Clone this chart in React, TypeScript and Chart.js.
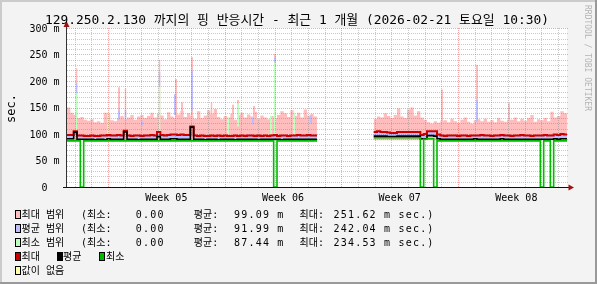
import React, { useEffect, useRef } from "react";
import { Chart, registerables } from "chart.js";

Chart.register(...registerables);

// ---------------- texts ----------------
const TITLE = "129.250.2.130 까지의 핑 반응시간 - 최근 1 개월 (2026-02-21 토요일 10:30)";
const Y_TITLE = "sec.";
const WATERMARK = "RRDTOOL / TOBI OETIKER";

// ---------------- axes ----------------
const SAMPLE_DAYS = 0.2; // one sample = 4.8 h
const SPIKE_DAYS = 0.12; // width of a short spike
const X_MIN = 0;
const X_MAX = 30; // days shown (1 month)
const Y_MIN = 0;
const Y_MAX = 300;
const yTickValues = [0, 50, 100, 150, 200, 250, 300];
const yTickLabels = ["  0  ", " 50 m", "100 m", "150 m", "200 m", "250 m", "300 m"];
const yMinorStep = 10;
const weekLabels = ["Week 05", "Week 06", "Week 07", "Week 08"];
const weekStartDays = [2.46, 9.46, 16.46, 23.46];
const firstDayLine = 0.46;
const dayLineCount = 30;

// ---------------- series (ms), null = no data ----------------
const maxRangeTop: (number | null)[] = [
  150, 140, 136, 130, 132, 127, 125, 128, 122, 124,
  121, 140, 138, 126, 124, 130, 134, 128, 131, 136,
  127, 133, 136, 130, 134, 140, 131, 138, 135, 128,
  141, 133, 130, 137, 144, 132, 139, 134, 129, 143,
  130, 135, 145, 138, 147, 132, 128, 134, 131, 138,
  127, 136, 140, 131, 137, 133, 142, 129, 135, 131,
  128, 134, 130, 136, 143, 139, 132, 145, 134, 140,
  131, 146, 135, 138, 133,
  null, null, null, null, null, null, null, null, null, null,
  null, null, null, null, null, null, null,
  129, 133, 131, 139, 134, 130, 136, 148, 133, 130,
  146, 150, 135, 143, 131, 127, 122, 120, 124, 121,
  125, 126, 122, 129, 124, 121, 127, 131, 123, 120,
  126, 128, 124, 129, 123, 126, 122, 130, 125, 123,
  127, 127, 131, 124, 129, 125, 130, 136, 123, 128,
  126, 130, 124, 142, 131, 134, 143, 139,
];

const maxLine: (number | null)[] = [
  98, 98, 105, 97, 97, 96, 96, 97, 96, 96,
  97, 97, 98, 97, 97, 98, 97, 106, 97, 96,
  97, 97, 96, 97, 97, 98, 97, 104, 98, 97,
  98, 99, 99, 98, 99, 98, 98, 114, 97, 96,
  97, 96, 96, 97, 96, 97, 96, 97, 96, 96,
  97, 96, 97, 96, 97, 97, 96, 97, 96, 97,
  96, 97, 98, 96, 97, 97, 96, 97, 97, 98,
  97, 97, 98, 97, 97,
  null, null, null, null, null, null, null, null, null, null,
  null, null, null, null, null, null, null,
  104, 105, 104, 104, 103, 102, 102, 104, 104, 104,
  104, 104, 104, 104, 98, 100, 105, 105, 105, 99,
  97, 96, 97, 97, 97, 96, 97, 97, 96, 97,
  97, 97, 98, 97, 97, 96, 97, 97, 98, 97,
  97, 96, 97, 97, 98, 97, 97, 96, 97, 97,
  97, 98, 97, 97, 99, 98, 100, 99,
];

const avgLine: (number | null)[] = [
  91, 91, 103, 90, 90, 90, 90, 90, 89, 90,
  90, 89, 91, 90, 90, 90, 90, 104, 90, 90,
  90, 89, 90, 90, 90, 90, 90, 95, 90, 90,
  90, 91, 91, 90, 90, 90, 90, 113, 90, 90,
  90, 89, 90, 90, 90, 89, 90, 90, 90, 90,
  89, 90, 90, 90, 90, 90, 90, 89, 90, 90,
  90, 90, 90, 90, 89, 90, 90, 90, 90, 90,
  90, 90, 90, 90, 90,
  null, null, null, null, null, null, null, null, null, null,
  null, null, null, null, null, null, null,
  96, 96, 96, 96, 95, 95, 95, 96, 96, 96,
  96, 96, 96, 96, 91, 91, 97, 97, 96, 91,
  90, 90, 90, 90, 90, 90, 90, 90, 90, 90,
  91, 90, 90, 90, 90, 90, 90, 90, 91, 90,
  90, 90, 90, 90, 90, 90, 90, 90, 90, 90,
  90, 90, 90, 90, 91, 90, 91, 91,
];

const minLine: (number | null)[] = [
  87, 87, 87, 87, 0, 87, 87, 87, 87, 87,
  87, 87, 87, 87, 87, 87, 87, 87, 87, 87,
  87, 87, 87, 87, 87, 87, 87, 87, 87, 87,
  87, 87, 87, 87, 87, 87, 87, 87, 87, 87,
  87, 87, 87, 87, 87, 87, 87, 87, 87, 87,
  87, 87, 87, 87, 87, 87, 87, 87, 87, 87,
  87, 87, 0, 87, 87, 87, 87, 87, 87, 87,
  87, 87, 87, 87, 87,
  null, null, null, null, null, null, null, null, null, null,
  null, null, null, null, null, null, null,
  93, 93, 93, 93, 93, 93, 93, 93, 93, 93,
  93, 93, 93, 93, 0, 90, 91, 91, 0, 87,
  87, 87, 87, 87, 87, 87, 87, 87, 87, 87,
  87, 87, 87, 87, 87, 87, 87, 87, 87, 87,
  87, 87, 87, 87, 87, 87, 87, 87, 87, 87,
  0, 87, 87, 0, 87, 87, 87, 87,
];

// short spikes: [day, top] for the max spread, [day, low, high] for the others
const maxRangeSpikes: [number, number][] = [
  [0.51, 224], [3.06, 188], [3.45, 186], [5.49, 240], [6.48, 204], [6.84, 160],
  [7.44, 245], [8.61, 160], [9.9, 155], [10.2, 164], [11.16, 153], [12.42, 251],
  [22.44, 184], [24.54, 230], [26.46, 158],
];
const avgRangeSpikes: [number, number, number][] = [
  [0.51, 177, 196], [3.06, 128, 145], [3.45, 126, 145], [4.46, 115, 125], [5.49, 190, 217],
  [6.42, 136, 175], [7.44, 145, 220], [10.2, 120, 155], [11.1, 118, 130], [12.42, 235, 244],
  [14.58, 120, 135], [24.54, 123, 164],
];
const minRangeSpikes: [number, number, number][] = [
  [0.51, 100, 177], [2.4, 98, 140], [5.49, 98, 190], [9.6, 100, 130], [10.2, 114, 158],
  [12.18, 100, 134], [12.42, 98, 235], [13.56, 100, 140],
];
const rangeFloor = 88;

// ---------------- legend ----------------
const legendNames = ["최대 범위", "평균 범위", "최소 범위"];
const legendMins = ["0.00", "0.00", "0.00"];
const legendAvgs = ["99.09 m", "91.99 m", "87.44 m"];
const legendMaxes = ["251.62 m", "242.04 m", "234.53 m"];
const lineLegendNames = ["최대", "평균", "최소"];
const unknownLabel = "값이 없음";

// ---------------- colours ----------------
const C_MAXRANGE = "#FFBDBD";
const C_AVGRANGE = "#BDBDFF";
const C_MINRANGE = "#BDFFBD";
const C_MAX = "#CC0000";
const C_AVG = "#000000";
const C_MIN = "#00BB00";
const C_UNKNOWN = "#FFFFA8";
const MONO = '"DejaVu Sans Mono", "Noto Sans CJK KR", monospace';

type Pt = { x: number; y: number | null };
function stepPoints(values: (number | null)[]): Pt[] {
  const pts: Pt[] = [];
  for (let i = 0; i < values.length; i++) {
    const v = values[i];
    if (v === null || v === undefined) continue;
    pts.push({ x: i * SAMPLE_DAYS, y: v });
    const next = i + 1 < values.length ? values[i + 1] : null;
    if (next === null || next === undefined) {
      pts.push({ x: (i + 1) * SAMPLE_DAYS, y: v });
      pts.push({ x: (i + 1) * SAMPLE_DAYS, y: null });
    }
  }
  return pts;
}
function spikePoints(list: number[][], k: number): Pt[] {
  const pts: Pt[] = [];
  list.forEach((s) => {
    pts.push({ x: s[0], y: s[k] });
    pts.push({ x: s[0] + SPIKE_DAYS, y: s[k] });
    pts.push({ x: s[0] + SPIKE_DAYS, y: null });
  });
  return pts;
}

function drawText(ctx: CanvasRenderingContext2D, s: string, x: number, y: number, size: number, spacing = 0) {
  ctx.font = `${size}px ${MONO}`;
  (ctx as any).letterSpacing = `${spacing}px`;
  ctx.fillText(s, x, y);
  (ctx as any).letterSpacing = "0px";
}
function drawBox(ctx: CanvasRenderingContext2D, x: number, top: number, color: string) {
  ctx.fillStyle = color;
  ctx.fillRect(x, top, 6, 9);
  ctx.strokeStyle = "#000";
  ctx.lineWidth = 1;
  ctx.setLineDash([]);
  ctx.strokeRect(x + 0.5, top + 0.5, 5, 8);
}

const GRID_AFTER_INDEX = 7;

const rrdPlugin = {
  id: "rrd",
  beforeDraw(chart: any) {
    const { ctx, chartArea: a, width, height } = chart;
    ctx.save();
    ctx.fillStyle = "#F3F3F3";
    ctx.fillRect(0, 0, width, height);
    ctx.fillStyle = "#CBCBCB";
    ctx.fillRect(0, 0, width, 2);
    ctx.fillRect(0, 0, 2, height);
    ctx.fillStyle = "#999999";
    ctx.fillRect(0, height - 2, width, 2);
    ctx.fillRect(width - 2, 0, 2, height);
    ctx.fillStyle = "#FFFFFF";
    ctx.fillRect(a.left, a.top, a.right - a.left, a.bottom - a.top);
    ctx.restore();
  },
  afterDatasetDraw(chart: any, args: any) {
    if (args.index !== GRID_AFTER_INDEX) return;
    const { ctx, chartArea: a } = chart;
    const xs = chart.scales.x;
    const ys = chart.scales.y;
    ctx.save();
    ctx.lineWidth = 1;
    ctx.setLineDash([1, 1]);
    const minor = "rgba(120,120,120,0.4)";
    const major = "rgba(235,60,60,0.45)";
    for (let v = yMinorStep; v <= Y_MAX; v += yMinorStep) {
      const py = Math.round(ys.getPixelForValue(v)) + 0.5;
      ctx.strokeStyle = yTickValues.includes(v) ? major : minor;
      ctx.beginPath();
      ctx.moveTo(a.left, py);
      ctx.lineTo(a.right + 1, py);
      ctx.stroke();
    }
    for (let k = 0; k < dayLineCount; k++) {
      const d = firstDayLine + k;
      const isMajor = weekStartDays.some((w) => Math.abs(w - d) < 1e-6);
      const px = Math.round(xs.getPixelForValue(d)) + 0.5;
      ctx.strokeStyle = isMajor ? major : minor;
      ctx.beginPath();
      ctx.moveTo(px, a.top);
      ctx.lineTo(px, a.bottom);
      ctx.stroke();
    }
    ctx.restore();
  },
  afterDatasetsDraw(chart: any) {
    const { ctx } = chart;
    const xs = chart.scales.x;
    const ys = chart.scales.y;
    const x0 = xs.getPixelForValue(X_MIN) - 0.5;
    const y0 = ys.getPixelForValue(Y_MIN) + 0.5;
    const xEnd = xs.getPixelForValue(X_MAX);
    const yTop = ys.getPixelForValue(Y_MAX);
    ctx.save();
    ctx.setLineDash([]);
    ctx.lineWidth = 1;
    ctx.strokeStyle = "#333333";
    ctx.beginPath();
    ctx.moveTo(x0, y0 + 0.5);
    ctx.lineTo(x0, yTop - 3);
    ctx.stroke();
    ctx.strokeStyle = "#111111";
    ctx.beginPath();
    ctx.moveTo(x0 - 3.5, y0);
    ctx.lineTo(xEnd + 2, y0);
    ctx.stroke();
    // arrows
    ctx.fillStyle = "#A01010";
    ctx.beginPath();
    ctx.moveTo(x0, yTop - 7);
    ctx.lineTo(x0 - 3, yTop - 1);
    ctx.lineTo(x0 + 3, yTop - 1);
    ctx.closePath();
    ctx.fill();
    ctx.beginPath();
    ctx.moveTo(xEnd + 7, y0);
    ctx.lineTo(xEnd + 1.5, y0 - 3);
    ctx.lineTo(xEnd + 1.5, y0 + 3);
    ctx.closePath();
    ctx.fill();

    // y tick labels
    ctx.fillStyle = "#000";
    ctx.textAlign = "left";
    ctx.textBaseline = "alphabetic";
    yTickValues.forEach((v, i) => {
      drawText(ctx, yTickLabels[i], 29.5, ys.getPixelForValue(v) + 3.5, 10);
    });
    // week labels
    ctx.textAlign = "center";
    weekLabels.forEach((lab, i) => {
      drawText(ctx, lab, xs.getPixelForValue(weekStartDays[i] + 3.5), 200.5, 10);
    });
    // title
    ctx.font = `13px ${MONO}`;
    ctx.fillText(TITLE, 297, 23.5, 504);
    // y title
    ctx.save();
    ctx.translate(15, 108.5);
    ctx.rotate(-Math.PI / 2);
    drawText(ctx, Y_TITLE, 0, 0, 12);
    ctx.restore();
    // watermark
    ctx.save();
    ctx.fillStyle = "#B4B4B4";
    ctx.textAlign = "left";
    ctx.translate(585, 5);
    ctx.rotate(Math.PI / 2);
    drawText(ctx, WATERMARK, 0, 0, 8);
    ctx.restore();

    // legend
    ctx.textAlign = "left";
    const rangeColors = [C_MAXRANGE, C_AVGRANGE, C_MINRANGE];
    legendNames.forEach((name, r) => {
      const yb = 217.5 + 14 * r;
      drawBox(ctx, 15, yb - 7.5, rangeColors[r]);
      ctx.fillStyle = "#000";
      drawText(ctx, name, 21.5, yb, 10);
      drawText(ctx, "(최소:", 81, yb, 10);
      drawText(ctx, legendMins[r], 135.8, yb, 10, 1.2);
      drawText(ctx, "평균:", 193.8, yb, 10);
      drawText(ctx, legendAvgs[r], 234, yb, 10, 1.2);
      drawText(ctx, "최대:", 299.5, yb, 10);
      drawText(ctx, legendMaxes[r] + " sec.)", 333.5, yb, 10, 1.2);
    });
    const lineColors = [C_MAX, C_AVG, C_MIN];
    const lineBoxX = [15, 57, 99];
    const lineTextX = [21.5, 63, 106];
    const yb4 = 259.5;
    lineLegendNames.forEach((name, i) => {
      drawBox(ctx, lineBoxX[i], yb4 - 7.5, lineColors[i]);
      ctx.fillStyle = "#000";
      drawText(ctx, name, lineTextX[i], yb4, 10);
    });
    const yb5 = 273.5;
    drawBox(ctx, 15, yb5 - 7.5, C_UNKNOWN);
    ctx.fillStyle = "#000";
    drawText(ctx, unknownLabel, 21.5, yb5, 10);
    ctx.restore();
  },
};

export default function App() {
  const ref = useRef<HTMLCanvasElement>(null);
  useEffect(() => {
    document.body.style.margin = "0";
    document.body.style.background = "#F3F3F3";
    const common = {
      stepped: true as const,
      pointRadius: 0,
      pointHoverRadius: 0,
      pointHitRadius: 0,
      spanGaps: false,
      tension: 0,
    };
    const clear = "rgba(0,0,0,0)";
    const hidden = { borderWidth: 0, borderColor: clear, fill: false };
    const chart = new Chart(ref.current as HTMLCanvasElement, {
      type: "line",
      data: {
        datasets: [
          { ...common, label: "최대 범위", data: stepPoints(maxRangeTop), borderWidth: 0, borderColor: clear, backgroundColor: C_MAXRANGE, fill: { value: rangeFloor }, order: 11 },
          { ...common, label: "max-spikes", data: spikePoints(maxRangeSpikes, 1), borderWidth: 0, borderColor: clear, backgroundColor: C_MAXRANGE, fill: { value: rangeFloor }, order: 10 },
          { ...common, ...hidden, label: "avg-low", data: stepPoints(avgLine), order: 9 },
          { ...common, label: "평균 범위", data: stepPoints(maxLine), borderWidth: 0, borderColor: clear, backgroundColor: C_AVGRANGE, fill: 2, order: 8 },
          { ...common, ...hidden, label: "avg-spike-low", data: spikePoints(avgRangeSpikes, 1), order: 7 },
          { ...common, label: "avg-spike-high", data: spikePoints(avgRangeSpikes, 2), borderWidth: 0, borderColor: clear, backgroundColor: C_AVGRANGE, fill: 4, order: 6 },
          { ...common, ...hidden, label: "min-spike-low", data: spikePoints(minRangeSpikes, 1), order: 5 },
          { ...common, label: "최소 범위", data: spikePoints(minRangeSpikes, 2), borderWidth: 0, borderColor: clear, backgroundColor: C_MINRANGE, fill: 6, order: 4 },
          { ...common, label: "최대", data: stepPoints(maxLine), borderColor: C_MAX, borderWidth: 2, fill: false, order: 3 },
          { ...common, label: "평균", data: stepPoints(avgLine), borderColor: C_AVG, borderWidth: 1.6, fill: false, order: 2 },
          { ...common, label: "최소", data: stepPoints(minLine), borderColor: C_MIN, borderWidth: 1.6, fill: false, order: 1 },
        ] as any,
      },
      options: {
        responsive: false,
        animation: false,
        devicePixelRatio: 1,
        events: [],
        layout: { padding: { left: 67, right: 30, top: 28, bottom: 97 } },
        scales: {
          x: { type: "linear", min: X_MIN, max: X_MAX, display: false },
          y: { type: "linear", min: Y_MIN, max: Y_MAX, display: false },
        },
        plugins: {
          legend: { display: false },
          tooltip: { enabled: false },
          title: { display: false },
        },
      },
      plugins: [rrdPlugin as any],
    });
    return () => chart.destroy();
  }, []);
  return <canvas ref={ref} width={597} height={284} style={{ display: "block", width: 597, height: 284 }} />;
}
